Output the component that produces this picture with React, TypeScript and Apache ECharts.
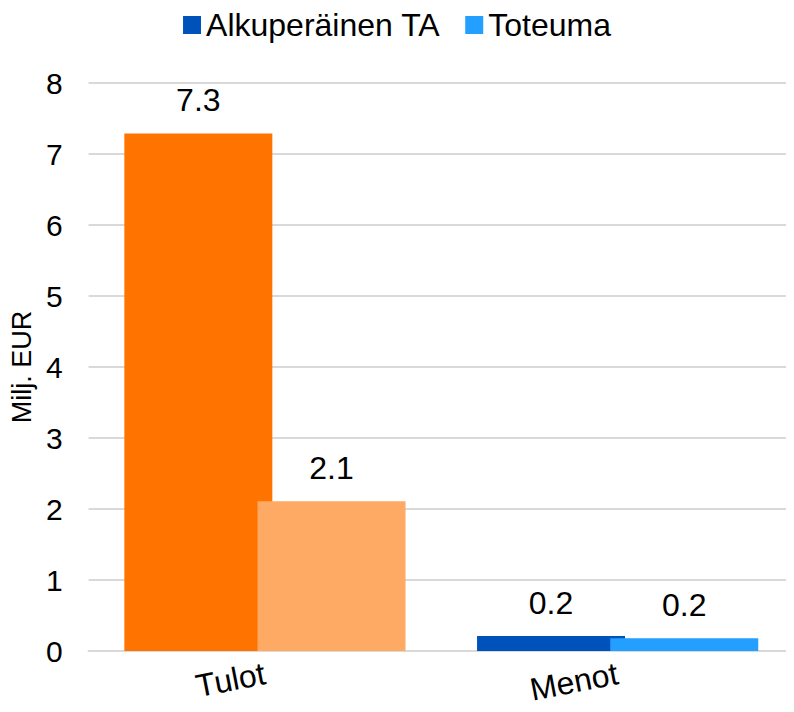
import React, { useEffect, useRef } from "react";
import * as echarts from "echarts";

const categories = ["Tulot", "Menot"];
const seriesNames = ["Alkuperäinen TA", "Toteuma"];
const originalBudget = [7.29, 0.21];
const actual = [2.11, 0.18];
const originalColors = ["#FF7300", "#0052BB"];
const actualColors = ["#FFAA64", "#239FFF"];
const legendColors = ["#0052BB", "#239FFF"];
const yTicks = [0, 1, 2, 3, 4, 5, 6, 7, 8];

const FONT = "'Liberation Sans', Arial, sans-serif";

export default function App() {
  const ref = useRef<HTMLDivElement>(null);
  useEffect(() => {
    if (!ref.current) return;
    const chart = echarts.init(ref.current, null, { renderer: "svg" });
    const label = {
      show: true,
      position: "top",
      distance: 17,
      fontSize: 32,
      fontFamily: FONT,
      color: "#000",
      formatter: (p: any) => Number(p.value).toFixed(1),
    };
    chart.setOption({
      animation: false,
      textStyle: { fontFamily: FONT },
      legend: {
        top: 4,
        left: "center",
        itemWidth: 18,
        itemHeight: 18,
        itemGap: 25,
        icon: "rect",
        textStyle: { fontSize: 32, color: "#000", fontFamily: FONT, padding: [0, 0, 0, 0] },
        data: seriesNames,
      },
      grid: { left: 88, right: 0, top: 83, bottom: 61 },
      xAxis: {
        type: "category",
        data: categories,
        axisLine: { show: true, lineStyle: { color: "#d9d9d9", width: 2 } },
        axisTick: { show: false },
        axisLabel: { rotate: 11, fontSize: 32, color: "#000", fontFamily: FONT, margin: 22 },
      },
      yAxis: {
        type: "value",
        min: yTicks[0],
        max: yTicks[yTicks.length - 1],
        interval: 1,
        name: "Milj. EUR",
        nameLocation: "middle",
        nameGap: 41,
        nameTextStyle: { fontSize: 27, color: "#000", fontFamily: FONT },
        axisLine: { show: false },
        axisTick: { show: false },
        axisLabel: { fontSize: 30, color: "#000", fontFamily: FONT, margin: 26 },
        splitLine: { lineStyle: { color: "#d9d9d9", width: 2 } },
      },
      series: [
        {
          name: seriesNames[0],
          type: "bar",
          barWidth: 148,
          barGap: "-10%",
          itemStyle: { color: legendColors[0] },
          label,
          data: originalBudget.map((v, i) => ({ value: v, itemStyle: { color: originalColors[i] } })),
        },
        {
          name: seriesNames[1],
          type: "bar",
          barWidth: 148,
          barGap: "-10%",
          itemStyle: { color: legendColors[1] },
          label,
          data: actual.map((v, i) => ({ value: v, itemStyle: { color: actualColors[i] } })),
        },
      ],
    });
    return () => chart.dispose();
  }, []);
  return <div ref={ref} style={{ width: 794, height: 712, margin: -8 }} />;
}
